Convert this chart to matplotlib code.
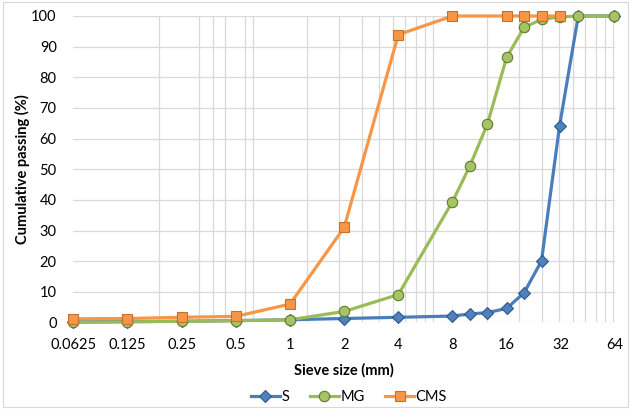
import numpy as np
import matplotlib
matplotlib.use("Agg")
import matplotlib.pyplot as plt
from matplotlib.patches import Rectangle

plt.rcParams['font.family'] = ['Lato', 'DejaVu Sans']

# Sieve sizes (mm) and cumulative passing (%) for each material
sieve_s = [0.0625, 0.125, 0.25, 0.5, 1, 2, 4, 8, 10, 12.5, 16, 20, 25, 31.5, 40, 63]
pass_s = [0.2, 0.3, 0.4, 0.6, 0.9, 1.3, 1.7, 2.1, 2.8, 3.2, 4.6, 9.7, 20.1, 64.2, 100, 100]

sieve_mg = [0.0625, 0.125, 0.25, 0.5, 1, 2, 4, 8, 10, 12.5, 16, 20, 25, 31.5, 40, 63]
pass_mg = [0.0, 0.2, 0.4, 0.6, 0.9, 3.6, 9.1, 39.4, 51.1, 64.7, 86.5, 96.3, 98.9, 99.7, 100, 100]

sieve_cms = [0.0625, 0.125, 0.25, 0.5, 1, 2, 4, 8, 16, 20, 25, 31.5]
pass_cms = [1.2, 1.3, 1.7, 2.0, 6.0, 31.0, 93.9, 100, 100, 100, 100, 100]

tick_values = [0.0625, 0.125, 0.25, 0.5, 1, 2, 4, 8, 16, 32, 64]
tick_labels = ["0.0625", "0.125", "0.25", "0.5", "1", "2", "4", "8", "16", "32", "64"]

fig = plt.figure(figsize=(6.31, 4.09), dpi=100)
ax = fig.add_axes([0.1162, 0.2115, 0.8584, 0.7494])

grid_c = "#d9d9d9"

# vertical grid lines: 1, 1.5, ..., 5 times each decade step starting at 0.125
vgrid = [0.0625, 64]
for base in (0.125, 1.25, 12.5):
    vgrid += [base * k for k in np.arange(1.0, 5.01, 0.5)]

ax.set_xscale('log')
ax.set_xlim(0.0625, 64)
ax.set_ylim(0, 100)
ax.set_xticks(tick_values)
ax.set_xticklabels(tick_labels)
ax.set_xticks(vgrid, minor=True)
ax.xaxis.set_minor_formatter(matplotlib.ticker.NullFormatter())
ax.set_yticks(np.arange(0, 101, 10))

ax.grid(False)
ax.grid(True, which='minor', axis='x', color=grid_c, lw=0.9)
ax.grid(True, which='major', axis='y', color=grid_c, lw=0.9)
ax.set_axisbelow(True)

for sp in ax.spines.values():
    sp.set_visible(False)
ax.tick_params(axis='both', which='both', length=0, labelsize=10.5, colors='#000000')
ax.tick_params(axis='x', pad=11)
ax.tick_params(axis='y', pad=12)

line_kw = dict(lw=2.3, clip_on=False, zorder=3)
ax.plot(sieve_s, pass_s, color="#4a7ebb", marker='D', ms=6,
        mfc="#4f81bd", mec="#2f5a8c", mew=0.8, label="S", **line_kw)
ax.plot(sieve_mg, pass_mg, color="#9bbb59", marker='o', ms=7.5,
        mfc="#a6c463", mec="#5f7a30", mew=0.8, label="MG", **line_kw)
ax.plot(sieve_cms, pass_cms, color="#f79646", marker='s', ms=7.5,
        mfc="#f79646", mec="#c0722f", mew=0.8, label="CMS", **line_kw)

ax.set_xlabel("Sieve size (mm)", fontsize=10.5, fontweight='bold', labelpad=8)
ax.set_ylabel("Cumulative passing (%)", fontsize=10.5, fontweight='bold', labelpad=1)

leg = fig.legend(loc='center', bbox_to_anchor=(0.553, 0.03), ncol=3, frameon=False,
                 fontsize=10.5, handlelength=2.0, columnspacing=1.4, handletextpad=0.1)

# outer chart border
fig.patches.append(Rectangle((0.004, 0.004), 0.992, 0.99, transform=fig.transFigure,
                             fill=False, ec="#d9d9d9", lw=0.8))

fig.savefig("out.png", dpi=100)
